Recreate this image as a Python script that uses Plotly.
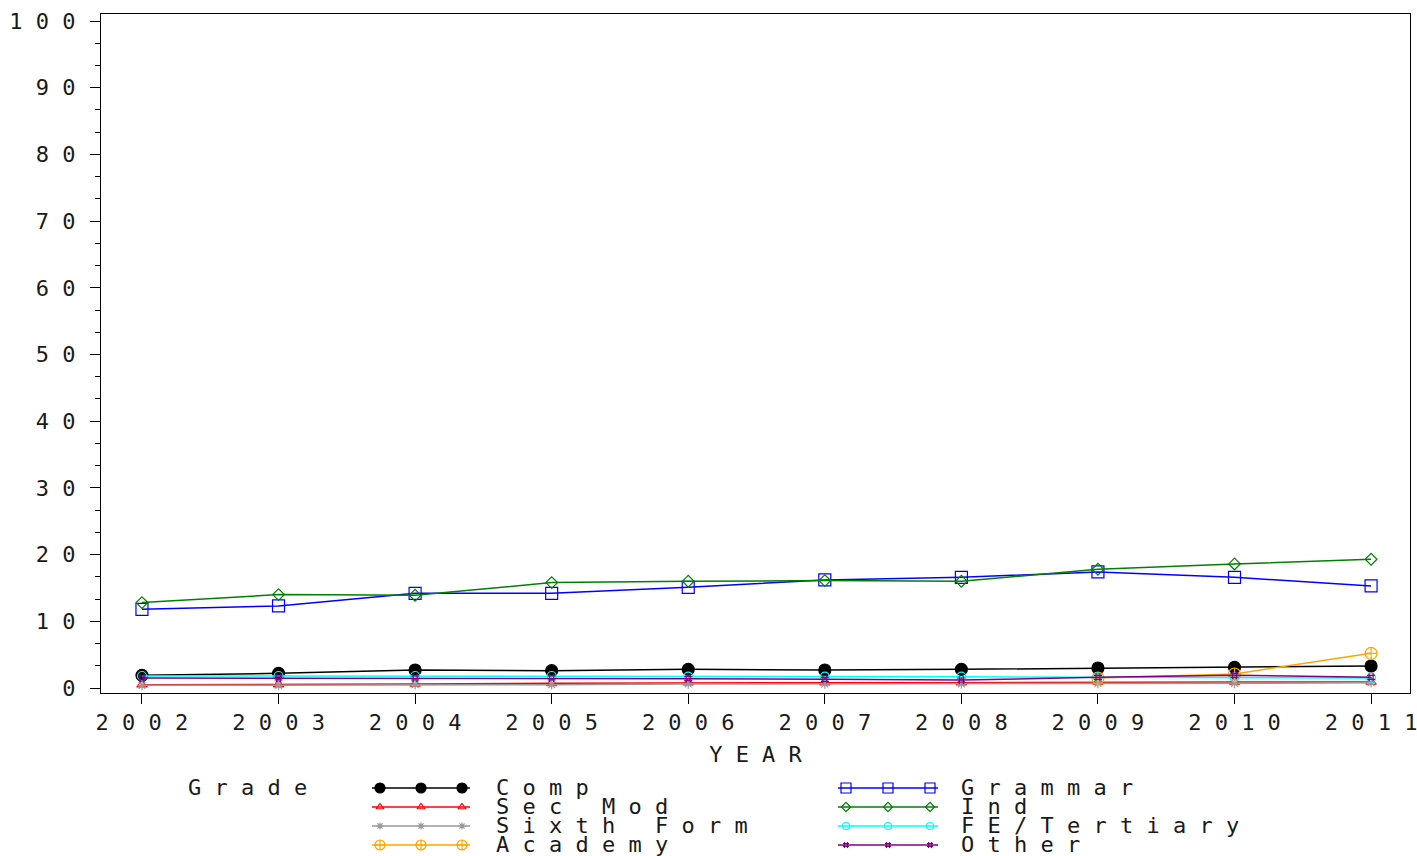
import plotly.graph_objects as go

years = [2002, 2003, 2004, 2005, 2006, 2007, 2008, 2009, 2010, 2011]

comp = [1.9, 2.2, 2.7, 2.6, 2.8, 2.7, 2.8, 3.0, 3.1, 3.3]
sec_mod = [0.5, 0.5, 0.6, 0.7, 0.8, 0.8, 0.8, 0.9, 0.9, 0.9]
sixth_form = [0.4, 0.4, 0.5, 0.5, 0.6, 0.6, 0.6, 0.7, 0.7, 0.8]
academy = [None, None, None, None, None, None, None, 1.5, 2.1, 5.2]
grammar = [11.8, 12.3, 14.2, 14.2, 15.1, 16.2, 16.6, 17.4, 16.6, 15.3]
ind = [12.8, 14.0, 13.9, 15.8, 16.0, 16.1, 16.0, 17.8, 18.6, 19.3]
fe_tertiary = [1.8, 1.8, 1.8, 1.8, 1.7, 1.7, 1.7, 1.6, 1.6, 1.5]
other = [1.5, 1.5, 1.5, 1.5, 1.4, 1.3, 1.2, 1.6, 1.9, 1.6]

y_ticks = [0, 10, 20, 30, 40, 50, 60, 70, 80, 90, 100]

series = [
    ("Comp", comp, "black", "circle", 12),
    ("Sec Mod", sec_mod, "red", "triangle-up-open", 9),
    ("Sixth Form", sixth_form, "#999999", "asterisk-open", 8),
    ("Academy", academy, "orange", "circle-cross-open", 12),
    ("Grammar", grammar, "blue", "square-open", 12),
    ("Ind", ind, "green", "diamond-open", 9),
    ("FE/Tertiary", fe_tertiary, "cyan", "circle-open", 9),
    ("Other", other, "purple", "hash-open", 8),
]

NB = "\u00a0"


def spaced(s, gap=1):
    return (NB * gap).join(NB if c == " " else c for c in s)


FONT = dict(family="DejaVu Sans Mono", size=22, color="#1a1a1a")

fig = go.Figure()

for name, vals, color, sym, size in series:
    fig.add_trace(go.Scatter(
        x=years, y=vals, mode="lines+markers", name=name,
        line=dict(color=color, width=1.5),
        marker=dict(symbol=sym, size=size, color=color,
                    line=dict(color=color, width=1.2)),
        showlegend=False, connectgaps=False,
    ))

# Layout targets (screen pixels); K compensates the page's vertical fit
W, H = 1417, 864
K = H / 856
top_m = 14 * K
plot_bottom = 693 * K
leg_rows = [r * K for r in (788, 807, 826, 845)]
col_line = [(372, 470), (838, 938)]
col_text = [494, 959]
for i, (name, vals, color, sym, size) in enumerate(series):
    col, row = divmod(i, 4)
    x0, x1 = col_line[col]
    mk = [x0 + 8, (x0 + x1) / 2, x1 - 8]
    fig.add_trace(go.Scatter(
        x=[x0, x1], y=[leg_rows[row]] * 2, mode="lines", xaxis="x2", yaxis="y2",
        line=dict(color=color, width=1.5), showlegend=False, hoverinfo="skip",
        cliponaxis=False,
    ))
    fig.add_trace(go.Scatter(
        x=mk, y=[leg_rows[row]] * 3, mode="markers", xaxis="x2", yaxis="y2",
        marker=dict(symbol=sym, size=size - 2, color=color,
                    line=dict(color=color, width=1.2)),
        showlegend=False, hoverinfo="skip", cliponaxis=False,
    ))
    fig.add_annotation(x=col_text[col], y=leg_rows[row], xref="x2", yref="y2",
                       text=spaced(name), showarrow=False, xanchor="left",
                       yanchor="middle", font=FONT)

fig.add_annotation(x=186, y=leg_rows[0], xref="x2", yref="y2", text=spaced("Grade"),
                   showarrow=False, xanchor="left", yanchor="middle", font=FONT)

paper_h = H - top_m
dom_bottom = (H - plot_bottom) / paper_h

fig.update_layout(
    width=W, height=H,
    margin=dict(l=101, r=7, t=top_m, b=0, pad=0),
    paper_bgcolor="white", plot_bgcolor="white",
    showlegend=False,
    xaxis=dict(
        range=[2001.7, 2011.285], tickmode="array", tickvals=years,
        ticktext=[spaced(str(y)) for y in years], ticklabeloverflow="allow",
        ticks="outside", ticklen=10, tickwidth=1, tickcolor="black",
        showline=True, linecolor="black", linewidth=1, mirror=True,
        showgrid=False, zeroline=False, tickfont=FONT, ticklabelstandoff=0,
        title=dict(text=spaced("YEAR"), font=FONT, standoff=12),
        anchor="y",
    ),
    yaxis=dict(
        domain=[dom_bottom, 1], range=[-0.75, 101.05], tickmode="array",
        tickvals=y_ticks, ticktext=[spaced(str(v)) for v in y_ticks],
        ticks="outside", ticklen=10, tickwidth=1, tickcolor="black",
        minor=dict(dtick=10 / 3, tick0=0, ticks="outside", ticklen=5,
                   tickcolor="black", showgrid=False),
        showline=True, linecolor="black", linewidth=1, mirror=True,
        showgrid=False, zeroline=False, tickfont=FONT, ticklabelstandoff=10,
    ),
    xaxis2=dict(domain=[0, 1], range=[101, 1410], visible=False, anchor="y2",
                fixedrange=True),
    yaxis2=dict(domain=[0, dom_bottom], range=[H, plot_bottom], visible=False,
                anchor="x2", fixedrange=True),
)

fig.write_html(
    "out.html",
    config={"displayModeBar": False},
    post_script="document.body.style.margin='0';",
)
